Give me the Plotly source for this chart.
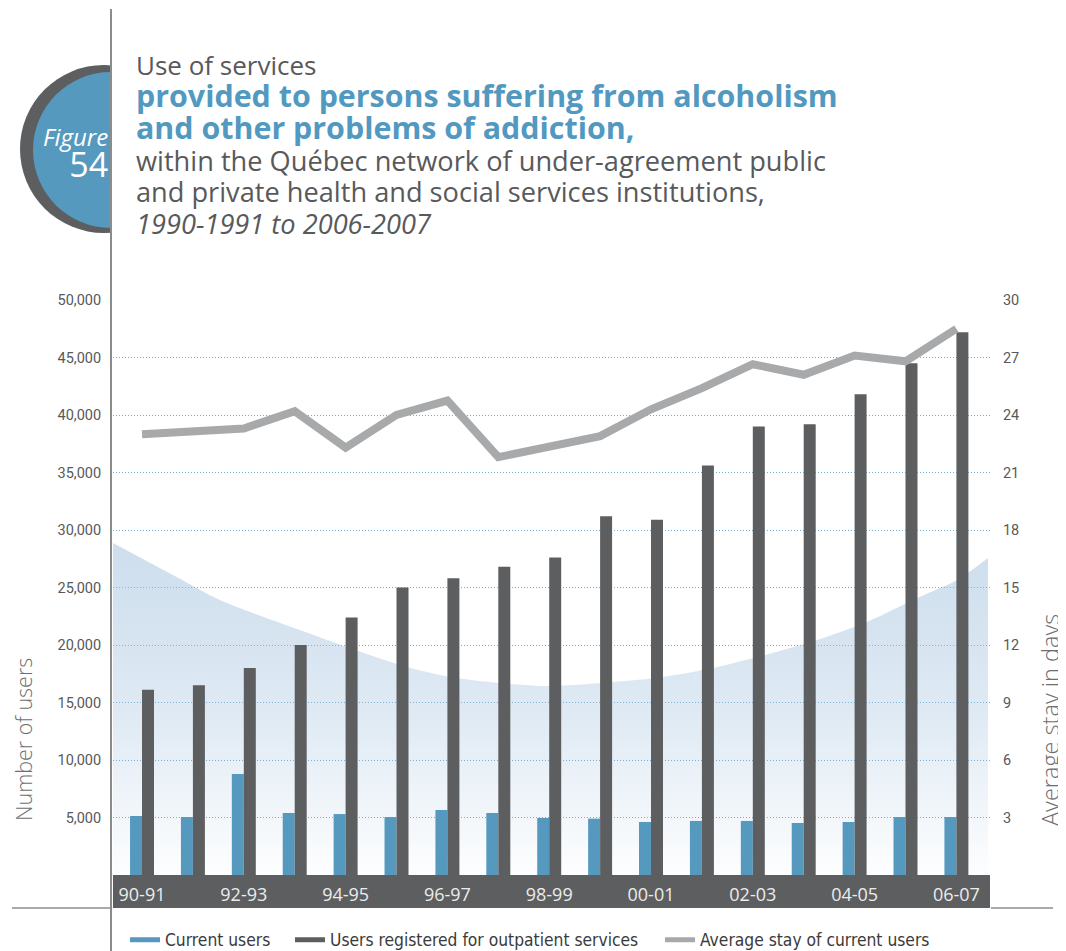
import plotly.graph_objects as go

# ---------------- data ----------------
categories = ["90-91", "91-92", "92-93", "93-94", "94-95", "95-96", "96-97", "97-98", "98-99",
              "99-00", "00-01", "01-02", "02-03", "03-04", "04-05", "05-06", "06-07"]
current_users = [5130, 5040, 8780, 5390, 5300, 5040, 5650, 5390, 4960,
                 4900, 4610, 4700, 4700, 4520, 4610, 5040, 5040]
outpatient_users = [16100, 16500, 18000, 20000, 22400, 25000, 25800, 26800, 27600,
                    31200, 30900, 35600, 39000, 39200, 41800, 44500, 47200]
average_stay = [23.0, 23.2, 23.3, 24.2, 22.3, 24.0, 24.75, 21.8, 22.3,
                22.9, 24.3, 25.4, 26.65, 26.1, 27.1, 26.8, 28.5]

left_ticks = [5000, 10000, 15000, 20000, 25000, 30000, 35000, 40000, 45000, 50000]
right_ticks = [3, 6, 9, 12, 15, 18, 21, 24, 27, 30]
shown_labels = categories[::2]

# decorative background wave (category position, users)
wave_x = [-0.57, 0.79, 1.53, 3.10, 5.07, 6.05, 7.03, 8.02, 9.25, 10.24, 11.30, 12.24, 13.26,
          14.24, 15.23, 16.01, 16.62]
wave_y = [28870, 25650, 23910, 21300, 18260, 17220, 16700, 16430, 16780, 17220, 18090, 19130,
          20430, 22000, 24090, 25650, 27570]

legend_names = ["Current users", "Users registered for outpatient services", "Average stay of current users"]

BLUE = "#5699bf"
DARK = "#5d5e60"
GREY_LINE = "#a7a9ab"
TEXT = "#58595b"

pos = list(range(len(categories)))

# layout geometry: the page body adds an 8px offset, so the figure is sized to fit the window
OFF = 8
W, H = 1066 - OFF, 951 - OFF
PL, PR, PT, PB = 113, 990, 300, 875       # plot area in window pixels
L, R, T, B = PL - OFF, W - (PR - OFF), PT - OFF, H - (PB - OFF)
PW = W - L - R
PH = H - T - B


def px_x(px):
    return (px - PL) / PW


def px_y(py):
    return (PB - py) / PH


fig = go.Figure()

# background wave on the (hidden) main y axis so it sits beneath the bars
fig.add_trace(go.Scatter(
    x=wave_x, y=wave_y, yaxis="y", mode="lines", line=dict(width=0, shape="spline", smoothing=0.8),
    fill="tozeroy",
    fillgradient=dict(type="vertical", start=0, stop=max(wave_y),
                      colorscale=[[0, "rgba(159,191,220,0.02)"], [0.5, "rgba(159,191,220,0.34)"],
                                  [1, "rgba(159,191,220,0.52)"]]),
    hoverinfo="skip", showlegend=False))

fig.add_trace(go.Bar(x=pos, y=current_users, yaxis="y2", marker=dict(color=BLUE, line=dict(width=0)),
                     name=legend_names[0], showlegend=False))
fig.add_trace(go.Bar(x=pos, y=outpatient_users, yaxis="y2", marker=dict(color=DARK, line=dict(width=0)),
                     name=legend_names[1], showlegend=False))
fig.add_trace(go.Scatter(x=pos, y=average_stay, yaxis="y3", mode="lines",
                         line=dict(color=GREY_LINE, width=8), name=legend_names[2], showlegend=False))

# legend entries drawn as thick dashes, each in its own legend box
legend_ids = ["legend", "legend2", "legend3"]
for name, col, lg in zip(legend_names, [BLUE, DARK, GREY_LINE], legend_ids):
    fig.add_trace(go.Scatter(x=[None], y=[None], yaxis="y2", mode="lines", line=dict(color=col, width=5),
                             name=name, showlegend=True, legend=lg))

shapes = [
    # badge
    dict(type="circle", xref="paper", yref="paper", x0=px_x(20), x1=px_x(188), y0=px_y(233), y1=px_y(65),
         fillcolor=DARK, line=dict(width=0), layer="below"),
    dict(type="circle", xref="paper", yref="paper", x0=px_x(33), x1=px_x(189), y0=px_y(228), y1=px_y(72),
         fillcolor=BLUE, line=dict(width=0), layer="below"),
    dict(type="rect", xref="paper", yref="paper", x0=px_x(112), x1=px_x(205), y0=px_y(250), y1=px_y(50),
         fillcolor="white", line=dict(width=0), layer="below"),
    # x-axis band
    dict(type="rect", xref="paper", yref="paper", x0=0, x1=1, y0=px_y(908), y1=0,
         fillcolor=DARK, line=dict(width=0), layer="below"),
    # frame lines
    dict(type="line", xref="paper", yref="paper", x0=px_x(111), x1=px_x(111), y0=px_y(960), y1=px_y(9),
         line=dict(color="#8c8c8c", width=2), layer="below"),
    dict(type="line", xref="paper", yref="paper", x0=px_x(12), x1=px_x(112), y0=px_y(908), y1=px_y(908),
         line=dict(color="#8c8c8c", width=1.5), layer="below"),
    dict(type="line", xref="paper", yref="paper", x0=px_x(991), x1=px_x(1053), y0=px_y(908), y1=px_y(908),
         line=dict(color="#8c8c8c", width=1.5), layer="below"),
]

TF = "Open Sans, Noto Sans, sans-serif"
BT = "#5299c1"
title_text = (
    "<span style='font-size:26px'>Use of services</span><br>"
    f"<span style='font-size:30.4px;color:{BT}'><b>provided to persons suffering from alcoholism</b></span><br>"
    f"<span style='font-size:30.4px;color:{BT}'><b>and other problems of addiction,</b></span><br>"
    "<span style='font-size:27.2px'>within the Québec network of under-agreement public</span><br>"
    "<span style='font-size:27.2px'>and private health and social services institutions,</span><br>"
    "<span style='font-size:27.2px'><i>1990-1991 to 2006-2007</i></span>"
)
annotations = [
    dict(text="<span style='font-size:24px'><i>Figure</i></span><br>"
              "<span style='font-size:34px'>54</span>",
         x=px_x(110), y=px_y(118), xanchor="right", yanchor="top", align="right",
         font=dict(family=TF, size=24, color="white")),
    dict(text=title_text, x=px_x(134), y=px_y(45), xanchor="left", yanchor="top", align="left",
         font=dict(family=TF, size=24.5, color=TEXT)),
    # axis titles
    dict(text="Number of users", x=px_x(23), y=px_y(740), xanchor="center", yanchor="middle",
         textangle=-90, font=dict(family=TF, size=21.5, color="#6d6e70", weight=300)),
    dict(text="Average stay in days", x=px_x(1050), y=px_y(720), xanchor="center", yanchor="middle",
         textangle=-90, font=dict(family=TF, size=23.5, color="#6d6e70", weight=300)),
]
for a in annotations:
    a.update(xref="paper", yref="paper", showarrow=False)

legend_font = dict(family="Liberation Sans Narrow, DejaVu Sans Condensed, sans-serif",
                   size=17.3, color="#3a3a3a")
legend_x = [125, 290, 660]


def legend_box(px):
    return dict(orientation="h", x=px_x(px), y=px_y(940), xanchor="left", yanchor="middle",
                font=legend_font, bgcolor="rgba(0,0,0,0)", itemwidth=30)


fig.update_layout(
    width=W, height=H,
    margin=dict(l=L, r=R, t=T, b=B, pad=0, autoexpand=False),
    paper_bgcolor="white", plot_bgcolor="rgba(0,0,0,0)",
    barmode="group", bargap=0.529, bargroupgap=0,
    xaxis=dict(range=[-0.57, 16.66], tickvals=pos[::2], ticktext=shown_labels,
               showgrid=False, zeroline=False, showline=False,
               ticks="outside", ticklen=3, tickcolor="rgba(0,0,0,0)",
               tickfont=dict(family=TF, size=18, color="#ececec")),
    yaxis=dict(range=[0, 50000], visible=False, showgrid=False, zeroline=False),
    yaxis2=dict(range=[0, 50000], overlaying="y", side="left", tickvals=left_ticks, tickformat=",",
                showgrid=True, gridcolor="#6aaed6", griddash="1px,2px", gridwidth=1,
                zeroline=False, showline=False,
                ticks="outside", ticklen=8, tickcolor="rgba(0,0,0,0)",
                tickfont=dict(family="Roboto, sans-serif", size=14.5, color=TEXT)),
    yaxis3=dict(range=[0, 30], overlaying="y", side="right", tickvals=right_ticks,
                showgrid=False, zeroline=False, showline=False,
                ticks="outside", ticklen=9, tickcolor="rgba(0,0,0,0)",
                tickfont=dict(family="Roboto, sans-serif", size=14.5, color=TEXT)),
    legend=legend_box(legend_x[0]),
    legend2=legend_box(legend_x[1]),
    legend3=legend_box(legend_x[2]),
    shapes=shapes,
    annotations=annotations,
    showlegend=True,
)

fig.write_html("out.html")
